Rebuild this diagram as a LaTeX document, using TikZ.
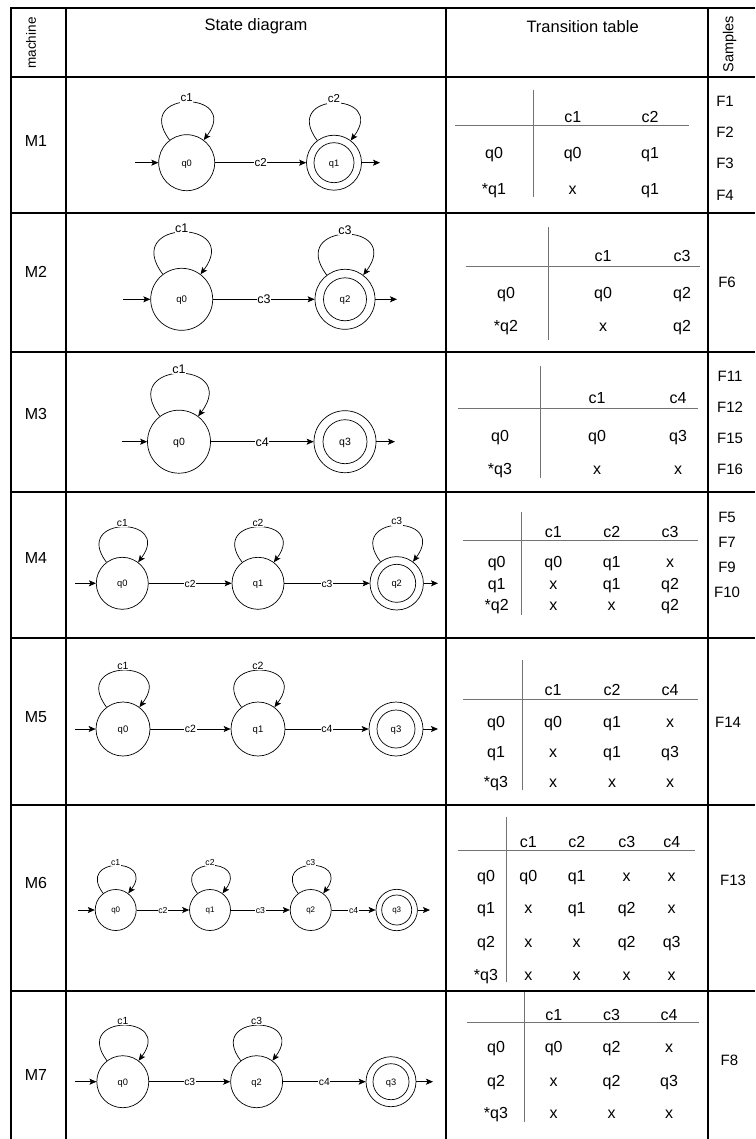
\documentclass[tikz,border=0pt]{standalone}
\usepackage{fontspec}
\setmainfont{Liberation Sans}
\usetikzlibrary{arrows.meta}
\newcommand{\fsz}[1]{\fontsize{#1}{#1}\selectfont}
\newcommand{\tabrow}[3] % node prefix, y, list of x/text
{
	\foreach \cx/\ct [count=\ci] in {#3}
		\node[tabtext] (#1\ci) at (\cx,#2) {\ct};
}
\tikzset{
	tablegrid/.style={line width=1.3pt},
	tabline/.style={line width=0.9pt, black!55},
	tabtext/.style={font=\fsz{16}, inner sep=0pt, text height=11.5pt, text depth=0pt},
	headtext/.style={font=\fsz{16.5}, inner sep=0pt},
	qfont/.style={font=\fsz{9}, text height=6.4pt},
	cfont/.style={font=\fsz{11}, text height=7.9pt},
	fstate/.style={draw, circle, line width=0.7pt, inner sep=0pt, minimum size=#1, text depth=0pt, qfont},
	trans/.style={line width=0.7pt, -{Stealth[length=7pt, width=6pt, inset=1.5pt]}},
	lbl/.style={fill=white, inner sep=0.6pt, text depth=0pt, cfont},
	loopl/.style={lbl, yshift=4.5pt},
	selfloop/.style={trans, out=127, in=53, distance=#1},
}
\begin{document}
\begin{tikzpicture}[x=1pt, y=-1pt]
	\useasboundingbox (0,0) rectangle (755,1139);
	% outer grid
	\draw[tablegrid] (755,8) -- (11,8) -- (11,1139);
	\foreach \y in {77,213,352,492,638,805,991}
		\draw[tablegrid] (11,\y) -- (755,\y);
	\foreach \x in {66,446,708}
		\draw[tablegrid] (\x,8) -- (\x,1139);
	
	% header
	\node[headtext, font=\fsz{13.5}, rotate=90] (hmach) at (31,43) {machine};
	\node[headtext] (hstate) at (256,26.7) {State diagram};
	\node[headtext] (htable) at (582.6,26.7) {Transition table};
	\node[headtext, font=\fsz{14.5}, rotate=90] (hsamp) at (729.5,44) {Samples};
	
	% machine names
	\foreach \y/\m in {141/M1,272/M2,414/M3,558/M4,717/M5,883/M6,1075/M7}
		\node[tabtext] (name\m) at (36,\y) {\m};
	
	% ---- M1 ----
	\begin{scope}[qfont/.style={font=\fsz{9.3}, text height=6.7pt}, cfont/.style={font=\fsz{11.5}, text height=8.2pt}]
		\node[fstate=56] (m1q0) at (186.7,162.7) {q0};
		\node[fstate=55] (m1q1) at (334,162.7) {};
		\node[fstate=40] (m1q1i) at (m1q1) {q1};
		\coordinate (m1in) at (135,162.7);
		\coordinate (m1out) at (380,162.7);
		\draw[trans] (m1in) -- (m1q0);
		\draw[trans] (m1q0) -- node[lbl] (m1e1) {c2} (m1q1);
		\draw[trans] (m1q1) -- (m1out);
		\draw[selfloop=63] (m1q0) to node[loopl] (m1l0) {c1} (m1q0);
		\draw[selfloop=62] (m1q1) to node[loopl] (m1l1) {c2} (m1q1);
	\end{scope}
	\draw[tabline] (533.3,90) -- (533.3,196.7);
	\draw[tabline] (455,125.7) -- (689.3,125.7);
	\tabrow{t1h}{116.7}{572.7/c1,650/c2}
	\tabrow{t1a}{152.7}{494/q0,572.7/q0,650/q1}
	\tabrow{t1b}{188.3}{494/*q1,572.7/x,650/q1}
	\foreach \y/\f in {100.7/F1,131.7/F2,162.7/F3,194.3/F4}
		\node[tabtext, font=\fsz{15}] (s\f) at (725,\y) {\f};
	
	% ---- M2 ----
	\begin{scope}[qfont/.style={font=\fsz{9.6}, text height=6.9pt}, cfont/.style={font=\fsz{12.5}, text height=9pt}]
		\node[fstate=62] (m2q0) at (181.7,299.3) {q0};
		\node[fstate=60] (m2q2) at (345,299.3) {};
		\node[fstate=43] (m2q2i) at (m2q2) {q2};
		\coordinate (m2in) at (123,299.3);
		\coordinate (m2out) at (397,299.3);
		\draw[trans] (m2in) -- (m2q0);
		\draw[trans] (m2q0) -- node[lbl] (m2e1) {c3} (m2q2);
		\draw[trans] (m2q2) -- (m2out);
		\draw[selfloop=70] (m2q0) to node[loopl] (m2l0) {c1} (m2q0);
		\draw[selfloop=67.5] (m2q2) to node[loopl] (m2l2) {c3} (m2q2);
	\end{scope}
	\draw[tabline] (548,227) -- (548,340);
	\draw[tabline] (466,266) -- (700,266);
	\tabrow{t2h}{256}{603/c1,682/c3}
	\tabrow{t2a}{293}{506/q0,603/q0,682/q2}
	\tabrow{t2b}{326}{506/*q2,603/x,682/q2}
	\node[tabtext, font=\fsz{15}] (sF6) at (727,282) {F6};
	
	% ---- M3 ----
	\begin{scope}[qfont/.style={font=\fsz{10.5}, text height=7.5pt}, cfont/.style={font=\fsz{12.5}, text height=9pt}]
		\node[fstate=63] (m3q0) at (179,441.7) {q0};
		\node[fstate=62] (m3q3) at (345,441.7) {};
		\node[fstate=44] (m3q3i) at (m3q3) {q3};
		\coordinate (m3in) at (121.7,441.7);
		\coordinate (m3out) at (395,441.7);
		\draw[trans] (m3in) -- (m3q0);
		\draw[trans] (m3q0) -- node[lbl] (m3e1) {c4} (m3q3);
		\draw[trans] (m3q3) -- (m3out);
		\draw[selfloop=71] (m3q0) to node[loopl] (m3l0) {c1} (m3q0);
	\end{scope}
	\draw[tabline] (540,366) -- (540,478);
	\draw[tabline] (458,408) -- (698,408);
	\tabrow{t3h}{398}{597/c1,678/c4}
	\tabrow{t3a}{436}{500/q0,597/q0,678/q3}
	\tabrow{t3b}{469}{500/*q3,597/x,678/x}
	\foreach \y/\f in {376/F11,407/F12,438/F15,469/F16}
		\node[tabtext, font=\fsz{15}] (s\f) at (730,\y) {\f};
	
	% ---- M4 ----
	\begin{scope}[qfont/.style={font=\fsz{9.3}, text height=6.7pt}, cfont/.style={font=\fsz{10.3}, text height=7.4pt}]
		\node[fstate=52] (m4q0) at (122.3,583.3) {q0};
		\node[fstate=52] (m4q1) at (258,583.3) {q1};
		\node[fstate=53.4] (m4q2) at (396.7,583.3) {};
		\node[fstate=38] (m4q2i) at (m4q2) {q2};
		\coordinate (m4in) at (75,583.3);
		\coordinate (m4out) at (438,583.3);
		\draw[trans] (m4in) -- (m4q0);
		\draw[trans] (m4q0) -- node[lbl] (m4e1) {c2} (m4q1);
		\draw[trans] (m4q1) -- node[lbl] (m4e2) {c3} (m4q2);
		\draw[trans] (m4q2) -- (m4out);
		\draw[selfloop=58.5] (m4q0) to node[loopl] (m4l0) {c1} (m4q0);
		\draw[selfloop=58.5] (m4q1) to node[loopl] (m4l1) {c2} (m4q1);
		\draw[selfloop=60] (m4q2) to node[loopl] (m4l2) {c3} (m4q2);
	\end{scope}
	\draw[tabline] (521.7,511.7) -- (521.7,615);
	\draw[tabline] (462.7,540.7) -- (698.3,540.7);
	\tabrow{t4h}{531.7}{553.3/c1,611.7/c2,670/c3}
	\tabrow{t4a}{561.7}{496.7/q0,553.3/q0,611.7/q1,670/x}
	\tabrow{t4b}{583.3}{496.7/q1,553.3/x,611.7/q1,670/q2}
	\tabrow{t4c}{605}{496.7/*q2,553.3/x,611.7/x,670/q2}
	\foreach \y/\f in {516.7/F5,541.7/F7,566.7/F9,591.7/F10}
		\node[tabtext, font=\fsz{15}] (s\f) at (727,\y) {\f};
	
	% ---- M5 ----
	\begin{scope}[qfont/.style={font=\fsz{9.5}, text height=6.8pt}, cfont/.style={font=\fsz{10.5}, text height=7.5pt}]
		\node[fstate=54] (m5q0) at (123,729) {q0};
		\node[fstate=54] (m5q1) at (258,729) {q1};
		\node[fstate=54] (m5q3) at (396,729) {};
		\node[fstate=38] (m5q3i) at (m5q3) {q3};
		\coordinate (m5in) at (75,729);
		\coordinate (m5out) at (438,729);
		\draw[trans] (m5in) -- (m5q0);
		\draw[trans] (m5q0) -- node[lbl] (m5e1) {c2} (m5q1);
		\draw[trans] (m5q1) -- node[lbl] (m5e2) {c4} (m5q3);
		\draw[trans] (m5q3) -- (m5out);
		\draw[selfloop=61] (m5q0) to node[loopl] (m5l0) {c1} (m5q0);
		\draw[selfloop=61] (m5q1) to node[loopl] (m5l1) {c2} (m5q1);
	\end{scope}
	\draw[tabline] (522,660) -- (522,790);
	\draw[tabline] (463,699) -- (698,699);
	\tabrow{t5h}{690}{553/c1,612/c2,670/c4}
	\tabrow{t5a}{722}{496/q0,553/q0,612/q1,670/x}
	\tabrow{t5b}{752}{496/q1,553/x,612/q1,670/q3}
	\tabrow{t5c}{782}{496/*q3,553/x,612/x,670/x}
	\node[tabtext, font=\fsz{15}] (sF14) at (728,722) {F14};
	
	% ---- M6 ----
	\begin{scope}[qfont/.style={font=\fsz{8}, text height=5.7pt}, cfont/.style={font=\fsz{8.7}, text height=6.2pt}, loopl/.style={lbl, yshift=3.6pt}]
		\node[fstate=41] (m6q0) at (115.7,910) {q0};
		\node[fstate=41] (m6q1) at (210,910) {q1};
		\node[fstate=41] (m6q2) at (310.7,910) {q2};
		\node[fstate=41.4] (m6q3) at (396.7,910) {};
		\node[fstate=30] (m6q3i) at (m6q3) {q3};
		\coordinate (m6in) at (78,910);
		\coordinate (m6out) at (430,910);
		\draw[trans] (m6in) -- (m6q0);
		\draw[trans] (m6q0) -- node[lbl] (m6e1) {c2} (m6q1);
		\draw[trans] (m6q1) -- node[lbl] (m6e2) {c3} (m6q2);
		\draw[trans] (m6q2) -- node[lbl] (m6e3) {c4} (m6q3);
		\draw[trans] (m6q3) -- (m6out);
		\draw[selfloop=46] (m6q0) to node[loopl] (m6l0) {c1} (m6q0);
		\draw[selfloop=46] (m6q1) to node[loopl] (m6l1) {c2} (m6q1);
		\draw[selfloop=46] (m6q2) to node[loopl] (m6l2) {c3} (m6q2);
	\end{scope}
	\draw[tabline] (506.7,816.7) -- (506.7,981.7);
	\draw[tabline] (458,850) -- (695,850);
	\tabrow{t6h}{841.7}{528.3/c1,576.7/c2,626.7/c3,671.7/c4}
	\tabrow{t6a}{876}{486/q0,528.3/q0,576.7/q1,626.7/x,671.7/x}
	\tabrow{t6b}{907.3}{486/q1,528.3/x,576.7/q1,626.7/q2,671.7/x}
	\tabrow{t6c}{941.7}{486/q2,528.3/x,576.7/x,626.7/q2,671.7/q3}
	\tabrow{t6d}{975}{486/*q3,528.3/x,576.7/x,626.7/x,671.7/x}
	\node[tabtext, font=\fsz{15}] (sF13) at (733,880) {F13};
	
	% ---- M7 ----
	\begin{scope}[qfont/.style={font=\fsz{9.3}, text height=6.7pt}, cfont/.style={font=\fsz{10.3}, text height=7.4pt}]
		\node[fstate=52] (m7q0) at (122.8,1081.7) {q0};
		\node[fstate=52] (m7q2) at (256.6,1081.7) {q2};
		\node[fstate=50] (m7q3) at (391,1081.7) {};
		\node[fstate=36] (m7q3i) at (m7q3) {q3};
		\coordinate (m7in) at (74.6,1081.7);
		\coordinate (m7out) at (433,1081.7);
		\draw[trans] (m7in) -- (m7q0);
		\draw[trans] (m7q0) -- node[lbl] (m7e1) {c3} (m7q2);
		\draw[trans] (m7q2) -- node[lbl] (m7e2) {c4} (m7q3);
		\draw[trans] (m7q3) -- (m7out);
		\draw[selfloop=58.5] (m7q0) to node[loopl] (m7l0) {c1} (m7q0);
		\draw[selfloop=58.5] (m7q2) to node[loopl] (m7l2) {c3} (m7q2);
	\end{scope}
	\draw[tabline] (524.8,991.7) -- (524.8,1121.7);
	\draw[tabline] (467,1022) -- (699,1022);
	\tabrow{t7h}{1015}{553.7/c1,611.5/c3,669/c4}
	\tabrow{t7a}{1046.7}{496/q0,553.7/q0,611.5/q2,669/x}
	\tabrow{t7b}{1081}{496/q2,553.7/x,611.5/q2,669/q3}
	\tabrow{t7c}{1113}{496/*q3,553.7/x,611.5/x,669/x}
	\node[tabtext, font=\fsz{15}] (sF8) at (729.4,1060) {F8};
\end{tikzpicture}
\end{document}
